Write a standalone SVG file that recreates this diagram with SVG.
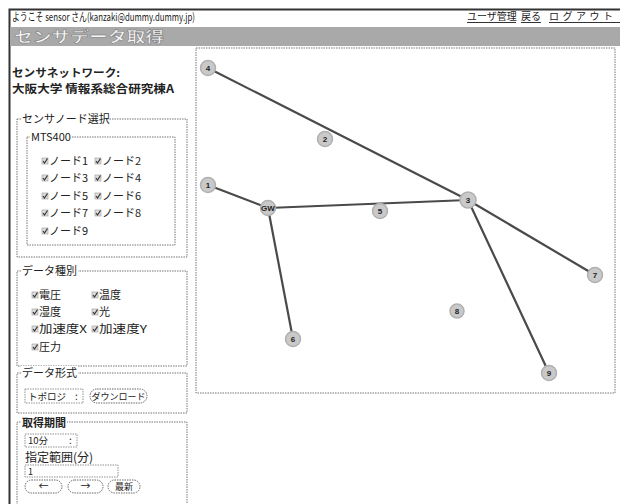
<svg xmlns="http://www.w3.org/2000/svg" width="620" height="504" viewBox="0 0 620 504">
<style>
text{font-family:"Noto Sans CJK JP","Liberation Sans",sans-serif;fill:#222}
.sm{font-size:11px}
.fs{fill:none;stroke:#777;stroke-width:1;stroke-dasharray:1.5,1}
.lg{font-size:11px}
.cb{fill:#ddd;stroke:#999;stroke-width:0.6}
.ck{fill:none;stroke:#333;stroke-width:1.2}
.edge{stroke:#4a4a4a;stroke-width:2.2;fill:none;stroke-linecap:round}
.node circle{fill:#c9c9c9;stroke:#b0b0b0;stroke-width:1.5}
.node text{font-family:"Liberation Sans",sans-serif;font-size:8px;font-weight:bold;text-anchor:middle;fill:#222}
.btn{fill:#fff;stroke:#666;stroke-width:1;stroke-dasharray:1.5,1}
.lnk{font-size:10px}
</style>
<defs>
<g id="chk"><rect class="cb" x="0" y="-3" width="6" height="6"/><path class="ck" d="M1,0 L2.5,2 L5.5,-2.5"/></g>
</defs>
<rect width="620" height="504" fill="#fff"/>
<!-- outer frame -->
<path d="M9.5,504 V9.5 H620" fill="none" stroke="#333" stroke-width="2"/>
<!-- header -->
<text class="sm" x="12" y="21" font-size="10.5" textLength="183" lengthAdjust="spacingAndGlyphs">ようこそ sensor さん(kanzaki@dummy.dummy.jp)</text>
<g id="links">
<text class="lnk" x="467" y="20">ユーザ管理</text>
<text class="lnk" x="521" y="20">戻る</text>
<text class="lnk" x="549" y="20" letter-spacing="3.5">ログアウト</text>
<path d="M467,22.5 H516 M521,22.5 H541 M549,22.5 H620" stroke="#333" stroke-width="1"/>
</g>
<!-- title bar -->
<rect x="10" y="27" width="610" height="19" fill="#a9a9a9"/>
<text x="14" y="42" font-size="15" font-weight="bold" style="fill:#f4f4f4" stroke="#777" stroke-width="0.5" textLength="150" lengthAdjust="spacingAndGlyphs">センサデータ取得</text>
<!-- left panel -->
<text x="12" y="77" font-size="11" font-weight="bold" textLength="108" lengthAdjust="spacingAndGlyphs">センサネットワーク:</text>
<text x="12" y="93" font-size="11" font-weight="bold" textLength="162" lengthAdjust="spacingAndGlyphs">大阪大学 情報系総合研究棟A</text>

<g id="fs-node">
<rect class="fs" x="17" y="119" width="170" height="138"/>
<rect x="21" y="112" width="86" height="13" fill="#fff"/>
<text class="lg" x="22" y="123">センサノード選択</text>
<rect class="fs" x="27" y="137" width="148" height="108"/>
<rect x="30" y="131" width="42" height="12" fill="#fff"/>
<text class="lg" x="31" y="141" font-size="10.5">MTS400</text>
<use href="#chk" x="42" y="161"/><text class="sm" x="49" y="165">ノード1</text>
<use href="#chk" x="95" y="161"/><text class="sm" x="102" y="165">ノード2</text>
<use href="#chk" x="42" y="178"/><text class="sm" x="49" y="182">ノード3</text>
<use href="#chk" x="95" y="178"/><text class="sm" x="102" y="182">ノード4</text>
<use href="#chk" x="42" y="196"/><text class="sm" x="49" y="200">ノード5</text>
<use href="#chk" x="95" y="196"/><text class="sm" x="102" y="200">ノード6</text>
<use href="#chk" x="42" y="213"/><text class="sm" x="49" y="217">ノード7</text>
<use href="#chk" x="95" y="213"/><text class="sm" x="102" y="217">ノード8</text>
<use href="#chk" x="42" y="231"/><text class="sm" x="49" y="235">ノード9</text>
</g>

<g id="fs-type">
<rect class="fs" x="17" y="271" width="170" height="95"/>
<rect x="21" y="264" width="57" height="13" fill="#fff"/>
<text class="lg" x="22" y="275">データ種別</text>
<use href="#chk" x="32" y="295"/><text class="sm" x="39" y="299">電圧</text>
<use href="#chk" x="92" y="295"/><text class="sm" x="99" y="299">温度</text>
<use href="#chk" x="32" y="312"/><text class="sm" x="39" y="316">湿度</text>
<use href="#chk" x="92" y="312"/><text class="sm" x="99" y="316">光</text>
<use href="#chk" x="32" y="329"/><text class="sm" x="39" y="333" textLength="48" lengthAdjust="spacingAndGlyphs">加速度X</text>
<use href="#chk" x="92" y="329"/><text class="sm" x="99" y="333" textLength="48" lengthAdjust="spacingAndGlyphs">加速度Y</text>
<use href="#chk" x="32" y="347"/><text class="sm" x="39" y="351">圧力</text>
</g>

<g id="fs-format">
<rect class="fs" x="17" y="373" width="170" height="40"/>
<rect x="21" y="366" width="57" height="13" fill="#fff"/>
<text class="lg" x="22" y="377">データ形式</text>
<rect x="25" y="389" width="58" height="14" fill="#fff" stroke="#777" stroke-width="0.8" stroke-dasharray="1.5,1"/>
<text x="28" y="400" font-size="9.5">トポロジ</text>
<text x="75" y="400" font-size="10">:</text>
<rect class="btn" x="90" y="389" width="57" height="14" rx="7"/>
<text x="118.5" y="400" font-size="9" text-anchor="middle">ダウンロード</text>
</g>

<g id="fs-period">
<path class="fs" d="M17,510 V422 H187 V510"/>
<rect x="21" y="415" width="46" height="13" fill="#fff"/>
<text class="lg" x="22" y="427" font-weight="bold">取得期間</text>
<rect x="25" y="434" width="52" height="13" fill="#fff" stroke="#777" stroke-width="0.8" stroke-dasharray="1.5,1"/>
<text x="28" y="444" font-size="9.5">10分</text>
<text x="69" y="444" font-size="10">:</text>
<text x="25" y="462" font-size="12">指定範囲(分)</text>
<rect x="25" y="465" width="93" height="12" fill="#fff" stroke="#777" stroke-width="0.8" stroke-dasharray="1.5,1"/>
<text x="28" y="475" font-size="9">1</text>
<rect class="btn" x="25" y="480" width="37" height="13" rx="6.5"/>
<text x="43.5" y="490" font-size="10" text-anchor="middle">←</text>
<rect class="btn" x="68" y="480" width="35" height="13" rx="6.5"/>
<text x="85.5" y="490" font-size="10" text-anchor="middle">→</text>
<rect class="btn" x="108" y="480" width="32" height="13" rx="6.5"/>
<text x="124" y="490" font-size="9" text-anchor="middle">最新</text>
</g>

<!-- map -->
<rect class="fs" x="196" y="48" width="419" height="345" fill="#fff"/>
<g id="connectors">
<line class="edge" x1="208" y1="68" x2="468" y2="200"/>
<line class="edge" x1="208" y1="185" x2="268" y2="208"/>
<line class="edge" x1="268" y1="208" x2="468" y2="200"/>
<line class="edge" x1="268" y1="208" x2="293" y2="339"/>
<line class="edge" x1="468" y1="200" x2="595" y2="275"/>
<line class="edge" x1="468" y1="200" x2="549" y2="373"/>
</g>
<g id="n4" class="node"><circle cx="208" cy="68" r="7.5"/><text x="208" y="71">4</text></g>
<g id="n2" class="node"><circle cx="325" cy="139" r="7.5"/><text x="325" y="142">2</text></g>
<g id="n1" class="node"><circle cx="208" cy="185" r="7.5"/><text x="208" y="188">1</text></g>
<g id="nGW" class="node"><circle cx="268" cy="208" r="7.5"/><text x="268" y="211">GW</text></g>
<g id="n5" class="node"><circle cx="380" cy="211" r="7.5"/><text x="380" y="214">5</text></g>
<g id="n3" class="node"><circle cx="468" cy="200" r="8"/><text x="468" y="203">3</text></g>
<g id="n7" class="node"><circle cx="595" cy="275" r="7.5"/><text x="595" y="278">7</text></g>
<g id="n8" class="node"><circle cx="457" cy="311" r="7"/><text x="457" y="314">8</text></g>
<g id="n6" class="node"><circle cx="293" cy="339" r="7.5"/><text x="293" y="342">6</text></g>
<g id="n9" class="node"><circle cx="549" cy="373" r="7.5"/><text x="549" y="376">9</text></g>
</svg>
